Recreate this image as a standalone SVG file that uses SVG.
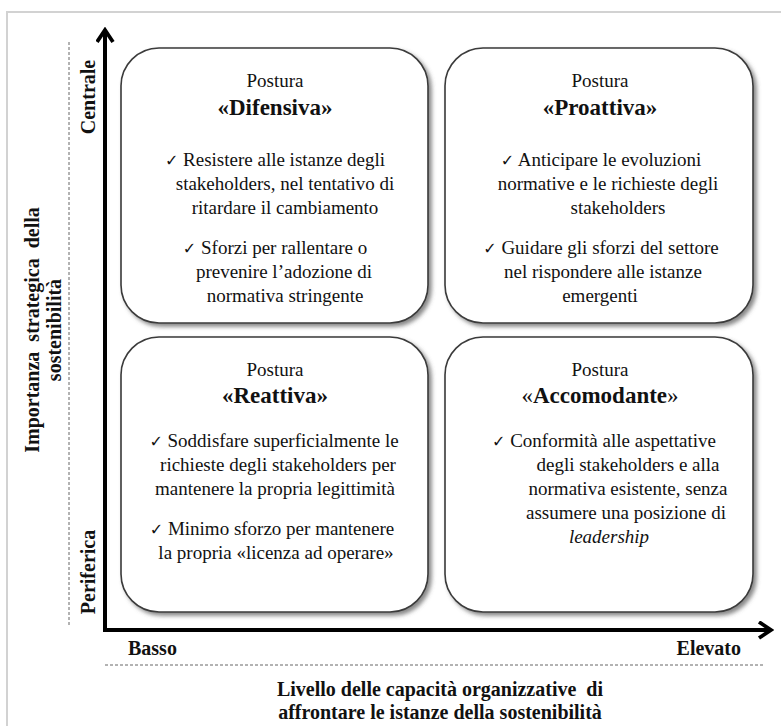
<svg xmlns="http://www.w3.org/2000/svg" width="781" height="726" viewBox="0 0 781 726">
<style>
  .box { fill: #ffffff; stroke: #3a3a3a; stroke-width: 1.6; filter: url(#shadow); }
  .t { font-family: "Liberation Serif", "DejaVu Serif", serif; font-size: 19px; fill: #111; text-anchor: middle; }
  .ck { font-family: "DejaVu Sans", sans-serif; font-size: 16px; }
  .h { font-family: "Liberation Serif", "DejaVu Serif", serif; font-size: 23px; font-weight: bold; fill: #111; text-anchor: middle; }
  .ax { font-family: "Liberation Serif", "DejaVu Serif", serif; font-size: 20px; font-weight: bold; fill: #111; }
  .axis { stroke: #000; stroke-width: 4; fill: none; }
  .dash { stroke: #666; stroke-width: 1; stroke-dasharray: 3 2; fill: none; }
</style>
<defs>
  <filter id="shadow" x="-10%" y="-10%" width="125%" height="125%">
    <feDropShadow dx="3" dy="3" stdDeviation="2" flood-color="#555" flood-opacity="0.7"/>
  </filter>
  <marker id="arr" viewBox="0 0 17 19" refX="14" refY="9.5" markerWidth="17" markerHeight="19" markerUnits="userSpaceOnUse" orient="auto">
    <path d="M2,1.5 L14,9.5 L2,17.5" fill="none" stroke="#000" stroke-width="3.8"/>
  </marker>
</defs>
<rect x="0" y="0" width="781" height="726" fill="#ffffff"/>
<rect x="7" y="12" width="800" height="760" fill="none" stroke="#d2d2d2" stroke-width="2"/>

<g id="connectors">
  <line class="axis" x1="105" y1="632" x2="105" y2="30" marker-end="url(#arr)"/>
  <line class="axis" x1="103" y1="630" x2="771" y2="630" marker-end="url(#arr)"/>
  <line class="dash" x1="69" y1="42" x2="69" y2="625"/>
  <line class="dash" x1="105" y1="665" x2="765" y2="665"/>
</g>

<g id="axis-labels">
  <text class="ax" text-anchor="middle" transform="translate(95,97) rotate(-90)">Centrale</text>
  <text class="ax" text-anchor="middle" transform="translate(95,572) rotate(-90)">Periferica</text>
  <text class="ax" text-anchor="middle" transform="translate(39,330) rotate(-90)" xml:space="preserve">Importanza  strategica  della</text>
  <text class="ax" text-anchor="middle" transform="translate(61,330) rotate(-90)">sostenibilità</text>
  <text class="ax" x="128" y="655">Basso</text>
  <text class="ax" x="741" y="655" text-anchor="end">Elevato</text>
  <text class="ax" x="440" y="696" text-anchor="middle" xml:space="preserve">Livello delle capacità organizzative  di</text>
  <text class="ax" x="440" y="719" text-anchor="middle">affrontare le istanze della sostenibilità</text>
</g>

<g id="difensiva">
  <rect class="box" x="121" y="48" width="307" height="275" rx="38" ry="38"/>
  <text class="t" x="275" y="87">Postura</text>
  <text class="h" x="275" y="115">«Difensiva»</text>
  <text class="t" x="275" y="166"><tspan class="ck">✓</tspan> Resistere alle istanze degli</text>
  <text class="t" x="285" y="190">stakeholders, nel tentativo di</text>
  <text class="t" x="285" y="214">ritardare il cambiamento</text>
  <text class="t" x="275" y="254"><tspan class="ck">✓</tspan> Sforzi per rallentare o</text>
  <text class="t" x="284" y="278">prevenire l’adozione di</text>
  <text class="t" x="285" y="302">normativa stringente</text>
</g>

<g id="proattiva">
  <rect class="box" x="445" y="48" width="308" height="275" rx="38" ry="38"/>
  <text class="t" x="600" y="87">Postura</text>
  <text class="h" x="600" y="115">«Proattiva»</text>
  <text class="t" x="601" y="166"><tspan class="ck">✓</tspan> Anticipare le evoluzioni</text>
  <text class="t" x="608" y="190">normative e le richieste degli</text>
  <text class="t" x="618" y="214">stakeholders</text>
  <text class="t" x="601" y="254"><tspan class="ck">✓</tspan> Guidare gli sforzi del settore</text>
  <text class="t" x="603" y="278">nel rispondere alle istanze</text>
  <text class="t" x="600" y="302">emergenti</text>
</g>

<g id="reattiva">
  <rect class="box" x="121" y="337" width="307" height="275" rx="38" ry="38"/>
  <text class="t" x="275" y="376">Postura</text>
  <text class="h" x="275" y="403">«Reattiva»</text>
  <text class="t" x="274" y="447"><tspan class="ck">✓</tspan> Soddisfare superficialmente le</text>
  <text class="t" x="278" y="471">richieste degli stakeholders per</text>
  <text class="t" x="275" y="495">mantenere la propria legittimità</text>
  <text class="t" x="272" y="535"><tspan class="ck">✓</tspan> Minimo sforzo per mantenere</text>
  <text class="t" x="276" y="559">la propria «licenza ad operare»</text>
</g>

<g id="accomodante">
  <rect class="box" x="445" y="337" width="308" height="275" rx="38" ry="38"/>
  <text class="t" x="600" y="376">Postura</text>
  <text class="h" x="600" y="403"><tspan font-weight="normal">«</tspan>Accomodante<tspan font-weight="normal">»</tspan></text>
  <text class="t" x="604" y="447"><tspan class="ck">✓</tspan> Conformità alle aspettative</text>
  <text class="t" x="628" y="471">degli stakeholders e alla</text>
  <text class="t" x="628" y="495">normativa esistente, senza</text>
  <text class="t" x="626" y="519">assumere una posizione di</text>
  <text class="t" x="609" y="543" font-style="italic">leadership</text>
</g>
</svg>
